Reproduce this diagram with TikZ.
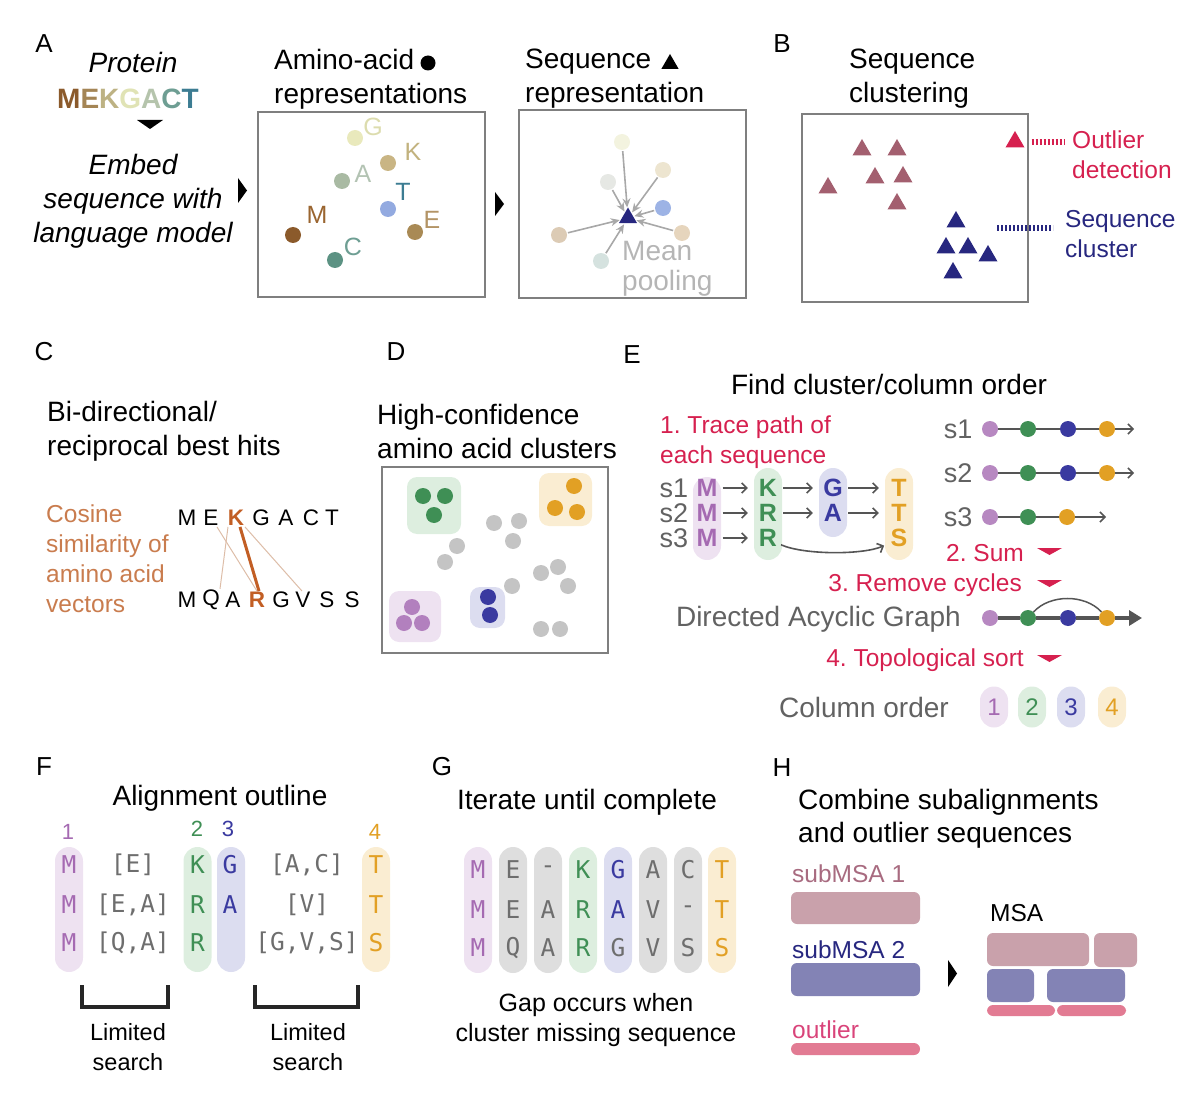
\documentclass[tikz,border=0pt]{standalone}
\usepackage{fontspec}
\setmainfont{Liberation Sans}
\setmonofont{DejaVu Sans Mono}
\usetikzlibrary{shapes.geometric,arrows.meta}
\frenchspacing

\definecolor{boxgray}{HTML}{7F7F7F}
\definecolor{navy}{HTML}{27277F}
\definecolor{mauve}{HTML}{A35F6F}
\definecolor{crim}{HTML}{D6204F}
\definecolor{purp}{HTML}{A56AB2}
\definecolor{grn}{HTML}{3F8F55}
\definecolor{blu}{HTML}{3A3AA0}
\definecolor{org}{HTML}{E2A024}
\definecolor{plpur}{HTML}{EEE2F1}
\definecolor{plgrn}{HTML}{DDEEDF}
\definecolor{plblu}{HTML}{DCDDF0}
\definecolor{plorg}{HTML}{FAEDD2}
\definecolor{plgry}{HTML}{DEDEDE}
\definecolor{txgry}{HTML}{626262}
\definecolor{mogry}{HTML}{6E6E6E}
\definecolor{dotgry}{HTML}{C4C4C4}
\definecolor{cosor}{HTML}{C97C4E}
\definecolor{kor}{HTML}{C25E24}
\definecolor{lnsim}{HTML}{DDBDA8}
\definecolor{poolgry}{HTML}{B5B5B5}
\definecolor{arrgry}{HTML}{A8A8A8}
\definecolor{darkgry}{HTML}{555555}
\definecolor{aaMd}{HTML}{8B5A2B}\definecolor{aaMl}{HTML}{9A6530}
\definecolor{aaEd}{HTML}{A98A55}\definecolor{aaEl}{HTML}{B39466}
\definecolor{aaKd}{HTML}{C9B584}\definecolor{aaKl}{HTML}{C2B27E}
\definecolor{aaGd}{HTML}{E9E9BC}\definecolor{aaGl}{HTML}{DCDCAE}
\definecolor{aaAd}{HTML}{A9BAA3}\definecolor{aaAl}{HTML}{B3C3B3}
\definecolor{aaCd}{HTML}{5C9283}\definecolor{aaCl}{HTML}{6E9E93}
\definecolor{aaTd}{HTML}{93AAE0}\definecolor{aaTl}{HTML}{3C7C92}
\definecolor{mkE}{HTML}{A48555}
\definecolor{mkK}{HTML}{BDB283}
\definecolor{mkG}{HTML}{E0E3B5}
\definecolor{mkA}{HTML}{B5C4AC}
\definecolor{pc1}{HTML}{F3F3DF}\definecolor{pc2}{HTML}{E6E8E4}
\definecolor{pc3}{HTML}{EDE5D0}\definecolor{pc4}{HTML}{9DB3E5}
\definecolor{pc5}{HTML}{DCCBB5}\definecolor{pc6}{HTML}{E6D5BD}
\definecolor{pc7}{HTML}{D5E2DF}
\definecolor{msa1}{HTML}{C9A1AB}
\definecolor{msa2}{HTML}{8383B5}
\definecolor{msa3}{HTML}{E27B93}
\definecolor{msaT}{HTML}{A86B80}
\definecolor{outT}{HTML}{D9447A}

\tikzset{
  every node/.style={inner sep=1pt},
  plbl/.style={font=\fontsize{26}{30}\selectfont},
  ttl/.style={font=\fontsize{28}{34}\selectfont, align=left},
  sml/.style={font=\fontsize{24.5}{30}\selectfont, align=left},
  pnl/.style={draw=boxgray, line width=1.3pt, inner sep=0pt},
  dot/.style={circle, minimum size=16pt, inner sep=0pt},
  tri/.style={regular polygon, regular polygon sides=3, minimum size=22pt, inner sep=0pt},
  aalbl/.style={font=\fontsize{25}{30}\selectfont},
  parr/.style={draw=arrgry, line width=1.6pt, -{Stealth[length=9pt,width=8pt]}, shorten >=1pt, shorten <=1pt},
  dotln/.style={line width=6pt, dash pattern=on 2pt off 2pt},
  seqlt/.style={font=\fontsize{22.5}{30}\selectfont},
  simln/.style={draw=lnsim, line width=1pt},
  kr/.style={draw=kor, line width=3pt},
  clbg/.style={rounded corners=10pt, inner sep=0pt},
  pill/.style={rounded corners=14pt, minimum width=28pt, inner sep=0pt},
  elbl/.style={font=\fontsize{27}{30}\selectfont, text=txgry},
  ebl/.style={font=\fontsize{25}{30}\selectfont\bfseries, minimum width=22pt},
  earr/.style={draw=darkgry, line width=1.6pt, -{Straight Barb[length=5pt,width=10pt]}, shorten <=4pt, shorten >=9pt},
  eln/.style={draw=darkgry, line width=1.5pt},
  dagln/.style={draw=darkgry, line width=4pt},
  mono/.style={font=\ttfamily\fontsize{24.5}{30}\selectfont},
  brk/.style={draw=black!85, line width=3.2pt},
  blk/.style={rounded corners=6pt, inner sep=0pt},
}

\begin{document}
\begin{tikzpicture}[x=1pt,y=-1pt]
  \useasboundingbox (0,0) rectangle (1200,1094);

  % A
  \node (labA) at (44,44) [plbl] {A};
  \node (prot) at (133,62) [font=\fontsize{28}{34}\selectfont\itshape] {Protein};
  \node (mek) at (128,99) [font=\fontsize{28}{34}\selectfont\bfseries]
    {\textcolor{aaMd}{M}\textcolor{mkE}{E}\textcolor{mkK}{K}\textcolor{mkG}{G}\textcolor{mkA}{A}\textcolor{aaCl}{C}\textcolor{aaTl}{T}};
  \fill (137,120) -- (163,120) -- (150,129) -- cycle;
  \node (emb) at (133,201) [font=\fontsize{28}{34}\selectfont\itshape, align=center] {Embed\\sequence with\\language model};
  \fill (238,178) -- (247,190.5) -- (238,203) -- cycle;

  \node (boxA) at (371.5,204.5) [pnl, minimum width=227pt, minimum height=185pt] {};
  \node (ttlA) at (273,79) [ttl, anchor=west] {Amino-acid\\representations};
  \node (ttlAd) at (428,63) [dot, fill=black, minimum size=15pt] {};
  \foreach \ch/\x/\y/\lx/\ly in {M/293/235/317/215, E/415/232/432/220, K/388/163/413/152,
      G/355/138/373/127, A/342/181/363/174, T/388/209/403/192, C/335/260/353/247} {
    \node (d\ch) at (\x,\y) [dot, fill=aa\ch d] {};
    \node (l\ch) at (\lx,\ly) [aalbl, text=aa\ch l] {\ch};
  }

  \fill (495,192) -- (504,204) -- (495,216) -- cycle;
  \node (boxS) at (632.5,204) [pnl, minimum width=227pt, minimum height=188pt] {};
  \node (ttlS) at (524,79) [ttl, anchor=west] {Sequence\\representation};
  \node (ttlSt) at (670,64) [tri, fill=black, minimum size=20pt] {};
  \node (mp) at (628,218) [tri, fill=navy, minimum size=21pt] {};
  \foreach \x/\y [count=\i] in {622/142, 608/182, 663/170, 663/208, 559/235, 682/233, 601/261} {
    \node (c\i) at (\x,\y) [dot, fill=pc\i] {};
    \draw[parr] (c\i) -- (mp);
  }
  \node (pool) at (621,269) [font=\fontsize{28}{30}\selectfont, align=left, anchor=west, text=poolgry] {Mean\\pooling};

  % B
  \node (labB) at (782,44) [plbl] {B};
  \node (ttlB) at (848,79) [ttl, anchor=west] {Sequence\\clustering};
  \node (boxB) at (915,208) [pnl, minimum width=226pt, minimum height=188pt] {};
  \foreach \x/\y [count=\i] in {862/150, 897/150, 828/188, 875/178, 903/177, 897/204}
    \node (ma\i) at (\x,\y) [tri, fill=mauve] {};
  \foreach \x/\y [count=\i] in {956/222, 946/248, 968/248, 988/256, 953/273}
    \node (nv\i) at (\x,\y) [tri, fill=navy] {};
  \node (tOut) at (1015,142) [tri, fill=crim] {};
  \node (outTxt) at (1071,155) [sml, anchor=west, text=crim] {Outlier\\detection};
  \draw[dotln, draw=crim, shorten <=10pt, shorten >=7pt] (tOut.east) -- (tOut.east -| outTxt.west);
  \coordinate (clu) at (990,228);
  \node (cluTxt) at (1064,234) [sml, anchor=west, text=navy] {Sequence\\cluster};
  \draw[dotln, draw=navy, shorten <=7pt, shorten >=11pt] (clu) -- (clu -| cluTxt.west);

  % C
  \node (labC) at (44,352) [plbl] {C};
  \node (ttlC) at (46,431) [ttl, anchor=west] {Bi-directional/\\reciprocal best hits};
  \node (cos) at (45,559) [sml, anchor=west, text=cosor] {Cosine\\similarity of\\amino acid\\vectors};
  \foreach \ch/\x in {M/187, E/211, G/261, A/286, C/311, T/332}
    \node (t\ch) at (\x,518) [seqlt] {\ch};
  \node (tK) at (236,518) [seqlt, font=\fontsize{22.5}{30}\selectfont\bfseries, text=kor] {K};
  \foreach \ch/\x/\nm in {M/187/bM, Q/211/bQ, A/233/bA, G/281/bG, V/303/bV, S/327/bS, S/352/bSS}
    \node (\nm) at (\x,600) [seqlt] {\ch};
  \node (bR) at (257,600) [seqlt, font=\fontsize{22.5}{30}\selectfont\bfseries, text=kor] {R};
  \draw[simln] ([xshift=6pt]tE.south) -- (bR.north);
  \draw[simln] ([xshift=-8pt]tK.south) -- ([xshift=9pt]bQ.north);
  \draw[simln] ([xshift=9pt]tK.south) -- ([xshift=-1pt]bV.north);
  \draw[kr] ([xshift=4pt]tK.south) -- ([xshift=2pt]bR.north);

  % D
  \node (labD) at (396,352) [plbl] {D};
  \node (ttlD) at (376,431) [ttl, anchor=west] {High-confidence\\amino acid clusters};
  \node (boxD) at (495,560) [pnl, minimum width=226pt, minimum height=186pt] {};
  \node (gG) at (434,505.5) [clbg, fill=plgrn, minimum width=54pt, minimum height=57pt] {};
  \node (gO) at (565.5,499.5) [clbg, fill=plorg, minimum width=53pt, minimum height=53pt] {};
  \node (gP) at (415,616.5) [clbg, fill=plpur, minimum width=52pt, minimum height=51pt] {};
  \node (gB) at (487.5,607.5) [clbg, fill=plblu, minimum width=35pt, minimum height=41pt] {};
  \foreach \x/\y [count=\i] in {423/496, 445/496, 434/515}
    \node (dg\i) at (\x,\y) [dot, fill=grn] {};
  \foreach \x/\y [count=\i] in {574/486, 555/508, 577/512}
    \node (do\i) at (\x,\y) [dot, fill=org] {};
  \foreach \x/\y [count=\i] in {412/607, 404/623, 422/623}
    \node (dp\i) at (\x,\y) [dot, fill=purp!85] {};
  \foreach \x/\y [count=\i] in {488/597, 490/615}
    \node (db\i) at (\x,\y) [dot, fill=blu] {};
  \foreach \x/\y [count=\i] in {494/523, 519/521, 513/541, 457/546, 445/562, 541/573,
      558/567, 568/586, 512/586, 541/629, 560/629}
    \node (dx\i) at (\x,\y) [dot, fill=dotgry] {};

  % E
  \node (labE) at (632,355) [plbl] {E};
  \node (ttlE) at (889,384) [ttl] {Find cluster/column order};
  \node (trace) at (659,442) [sml, anchor=west, text=crim] {1. Trace path of\\each sequence};
  \node (cM) at (707,518.5) [pill, fill=plpur, minimum height=83pt] {};
  \node (cK) at (768,514) [pill, fill=plgrn, minimum height=92pt] {};
  \node (cG) at (833,502.5) [pill, fill=plblu, minimum height=69pt] {};
  \node (cT) at (899,514) [pill, fill=plorg, minimum height=92pt] {};
  \foreach \r/\y/\b/\c/\d in {1/488/K/G/T, 2/513/R/A/T} {
    \node (s\r) at (674,\y) [elbl] {s\r};
    \node (em\r) at (707,\y) [ebl, text=purp] {M};
    \node (ek\r) at (768,\y) [ebl, text=grn] {\b};
    \node (eg\r) at (833,\y) [ebl, text=blu] {\c};
    \node (et\r) at (899,\y) [ebl, text=org] {\d};
    \draw[earr] (em\r) -- (ek\r);
    \draw[earr] (ek\r) -- (eg\r);
    \draw[earr] (eg\r) -- (et\r);
  }
  \node (s3) at (674,538) [elbl] {s3};
  \node (em3) at (707,538) [ebl, text=purp] {M};
  \node (ek3) at (768,538) [ebl, text=grn] {R};
  \node (et3) at (899,538) [ebl, text=org] {S};
  \draw[earr] (em3) -- (ek3);
  \draw[earr, shorten <=2pt, shorten >=4pt] ([yshift=-6pt]ek3.east) .. controls +(25,11) and +(-25,11) .. ([yshift=-6pt]et3.west);

  \foreach \r/\y in {1/429, 2/473} {
    \node (rs\r) at (958,\y) [elbl] {s\r};
    \node (pa\r) at (990,\y) [dot, fill=purp!80] {};
    \node (pb\r) at (1028,\y) [dot, fill=grn] {};
    \node (pc\r) at (1068,\y) [dot, fill=blu] {};
    \node (pd\r) at (1107,\y) [dot, fill=org] {};
    \coordinate (pe\r) at (1134,\y);
    \draw[eln] (pa\r) -- (pb\r) -- (pc\r) -- (pd\r);
    \draw[eln, -{Straight Barb[length=5pt,width=10pt]}] (pd\r) -- (pe\r);
  }
  \node (rs3) at (958,517) [elbl] {s3};
  \node (pa3) at (990,517) [dot, fill=purp!80] {};
  \node (pb3) at (1028,517) [dot, fill=grn] {};
  \node (pd3) at (1067,517) [dot, fill=org] {};
  \coordinate (pe3) at (1106,517);
  \draw[eln] (pa3) -- (pb3) -- (pd3);
  \draw[eln, -{Straight Barb[length=5pt,width=10pt]}] (pd3) -- (pe3);

  \node (sum) at (1025,553) [sml, anchor=east, text=crim] {2. Sum};
  \fill[crim] (1037,548) -- (1062,548) -- (1049.5,555) -- cycle;
  \node (rmc) at (1023,585) [sml, anchor=east, text=crim] {3. Remove cycles};
  \fill[crim] (1037,580) -- (1062,580) -- (1049.5,587) -- cycle;

  \node (dag) at (962,619) [ttl, anchor=east, text=txgry] {Directed Acyclic Graph};
  \node (qa) at (990,618) [dot, fill=purp!80] {};
  \node (qb) at (1028,618) [dot, fill=grn] {};
  \node (qc) at (1068,618) [dot, fill=blu] {};
  \node (qd) at (1107,618) [dot, fill=org] {};
  \coordinate (qe) at (1142,618);
  \draw[dagln] (qa) -- (qb) -- (qc) -- (qd);
  \draw[dagln, -{Triangle[length=13pt,width=15pt]}] (qd) -- (qe);
  \draw[eln] (qb) .. controls +(22,-24) and +(-22,-24) .. (qd);

  \node (tps) at (1025,660) [sml, anchor=east, text=crim] {4. Topological sort};
  \fill[crim] (1037,655) -- (1062,655) -- (1049.5,662) -- cycle;
  \node (cord) at (950,707) [ttl, anchor=east, text=txgry] {Column order};
  \foreach \x/\f/\t/\nm in {994/plpur/purp/1, 1032/plgrn/grn/2, 1071/plblu/blu/3, 1112/plorg/org/4}
    \node (o\nm) at (\x,707) [pill, fill=\f, text=\t, minimum height=41pt, font=\fontsize{24}{30}\selectfont] {\nm};

  % F
  \node (labF) at (44,767) [plbl] {F};
  \node (ttlF) at (220,798) [ttl] {Alignment outline};
  \node (fc1) at (69,909.5) [pill, fill=plpur, minimum height=125pt] {};
  \node (fc2) at (197.5,909.5) [pill, fill=plgrn, minimum height=125pt] {};
  \node (fc3) at (231,909.5) [pill, fill=plblu, minimum height=125pt] {};
  \node (fc4) at (376,909.5) [pill, fill=plorg, minimum height=125pt] {};
  \node (fn1) at (68,832) [font=\fontsize{22}{26}\selectfont, text=purp] {1};
  \node (fn2) at (197,829) [font=\fontsize{22}{26}\selectfont, text=grn] {2};
  \node (fn3) at (228,829) [font=\fontsize{22}{26}\selectfont, text=blu] {3};
  \node (fn4) at (375,832) [font=\fontsize{22}{26}\selectfont, text=org] {4};
  \foreach \y/\a/\b/\c/\d [count=\i] in {865/{[E]}/K/{[A,C]}/T, 905/{[E,A]}/R/{[V]}/T, 943/{[Q,A]}/R/{[G,V,S]}/S} {
    \node (fm\i) at (69,\y) [mono, text=purp] {M};
    \node (fa\i) at (133,\y) [mono, text=mogry] {\a};
    \node (fk\i) at (197.5,\y) [mono, text=grn] {\b};
    \node (fb\i) at (307,\y) [mono, text=mogry] {\c};
    \node (ft\i) at (376,\y) [mono, text=org] {\d};
  }
  \node (fg1) at (230,865) [mono, text=blu] {G};
  \node (fg2) at (230,905) [mono, text=blu] {A};
  \draw[brk] (82,985) -- (82,1007) -- (168,1007) -- (168,985);
  \draw[brk] (255,985) -- (255,1007) -- (358,1007) -- (358,985);
  \node (ls1) at (128,1047) [font=\fontsize{23.5}{30}\selectfont, align=center] {Limited\\search};
  \node (ls2) at (308,1047) [font=\fontsize{23.5}{30}\selectfont, align=center] {Limited\\search};

  % G
  \node (labG) at (442,767) [plbl] {G};
  \node (ttlG) at (587,802) [ttl] {Iterate until complete};
  \foreach \x/\f/\t/\tt/\a/\b/\c [count=\i] in {478/plpur/purp/purp/M/M/M, 513/plgry/mogry/mogry/E/E/Q,
      548/plgry/mogry/mogry/-/A/A, 583/plgrn/grn/grn/K/R/R, 618/plblu/blu/mogry/G/A/G,
      653/plgry/mogry/mogry/A/V/V, 688/plgry/mogry/mogry/C/-/S, 722/plorg/org/org/T/T/S} {
    \node (gc\i) at (\x,910) [pill, fill=\f, minimum height=126pt] {};
    \node (ga\i) at (\x,870) [mono, text=\t] {\a};
    \node (gb\i) at (\x,910) [mono, text=\t] {\b};
    \node (gd\i) at (\x,948) [mono, text=\tt] {\c};
  }
  \node (gap) at (596,1020) [font=\fontsize{25}{30}\selectfont, align=center] {Gap occurs when\\cluster missing sequence};

  % H
  \node (labH) at (782,768) [plbl] {H};
  \node (ttlH) at (797,818.5) [font=\fontsize{28}{33}\selectfont, align=left, anchor=west] {Combine subalignments\\and outlier sequences};
  \node (sub1) at (791,874) [sml, anchor=west, text=msaT] {subMSA 1};
  \node (bar1) at (855.5,908) [blk, fill=msa1, minimum width=129pt, minimum height=32pt] {};
  \node (sub2) at (791,950) [sml, anchor=west, text=navy] {subMSA 2};
  \node (bar2) at (855.5,979.5) [blk, fill=msa2, minimum width=129pt, minimum height=33pt] {};
  \node (outl) at (791,1030) [sml, anchor=west, text=outT] {outlier};
  \node (bar3) at (855.5,1049) [blk, fill=msa3, minimum width=129pt, minimum height=12pt] {};
  \fill (948,960) -- (957,973.5) -- (948,987) -- cycle;
  \node (msa) at (989,913) [sml, anchor=west] {MSA};
  \node (mb1) at (1038,949.5) [blk, fill=msa1, minimum width=102pt, minimum height=33pt] {};
  \node (mb2) at (1115.5,950) [blk, fill=msa1, minimum width=43pt, minimum height=34pt] {};
  \node (mb3) at (1010.5,985.5) [blk, fill=msa2, minimum width=47pt, minimum height=33pt] {};
  \node (mb4) at (1086,985.5) [blk, fill=msa2, minimum width=78pt, minimum height=33pt] {};
  \node (mb5) at (1021,1010.5) [blk, fill=msa3, minimum width=68pt, minimum height=11pt] {};
  \node (mb6) at (1091.5,1010.5) [blk, fill=msa3, minimum width=69pt, minimum height=11pt] {};
\end{tikzpicture}
\end{document}
